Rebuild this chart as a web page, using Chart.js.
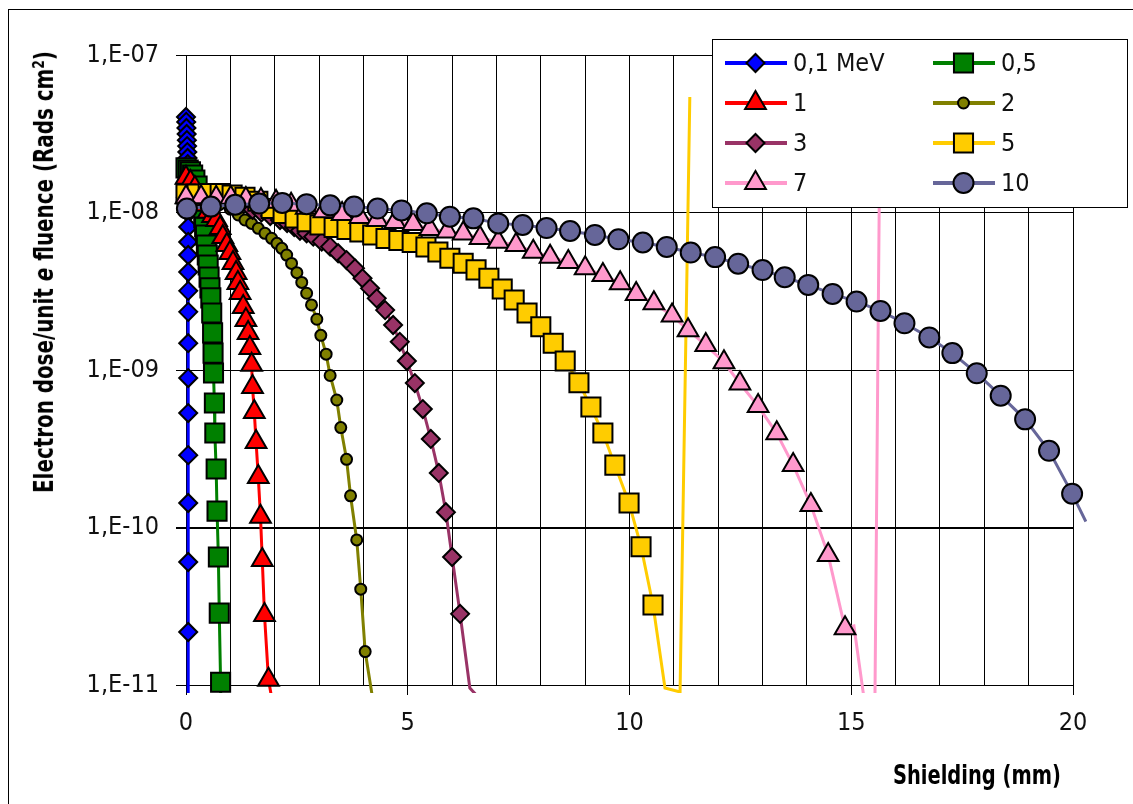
<!DOCTYPE html>
<html>
<head>
<meta charset="utf-8">
<script src="https://cdn.jsdelivr.net/npm/chart.js@4.4.1/dist/chart.umd.min.js"></script>
<style>
  body { margin: 0; background: #fff; overflow: hidden; }
  #wrap { position: relative; width: 1133px; height: 804px; overflow: hidden; }
  #frame { position: absolute; left: 8px; top: 9px; width: 1300px; height: 1000px; border-left: 1px solid #000; border-top: 1px solid #000; }
  canvas { position: absolute; left: 0; top: 0; }
  .title { position: absolute; font-family: 'DejaVu Sans Condensed', 'DejaVu Sans', sans-serif; font-weight: bold; font-size: 26px; line-height: 26px; white-space: nowrap; color: #000; }
  .title sup { font-size: 0.62em; vertical-align: 0.55em; line-height: 0; }
</style>
</head>
<body>
<div id="wrap">
  <div id="frame"></div>
  <canvas id="myChart" width="1133" height="804"></canvas>
  <div id="yTitle" class="title">Electron dose/unit <i>e</i> fluence (Rads cm<sup>2</sup>)</div>
  <div id="xTitle" class="title">Shielding (mm)</div>
</div>
<script>
// series labels (electron energy)
const seriesNames = ['0,1 MeV', '0,5', '1', '2', '3', '5', '7', '10'];

// y axis ticks
const yTickValues = [1e-11, 1e-10, 1e-9, 1e-8, 1e-7];
const yTickLabels = ['1,E-11', '1,E-10', '1,E-09', '1,E-08', '1,E-07'];
const xTickLabels = ['0', '5', '10', '15', '20'];

// shielding (mm) / dose per unit fluence, points with a marker
const dist01 = [0.00, 0.005, 0.01, 0.015, 0.02, 0.025, 0.03, 0.035, 0.04, 0.04, 0.045, 0.045, 0.05, 0.05, 0.05, 0.05, 0.05, 0.05, 0.05, 0.05, 0.05, 0.05, 0.05, 0.05, 0.05, 0.05];
const dose01 = [4.04e-8, 3.76e-8, 3.44e-8, 3.15e-8, 2.88e-8, 2.64e-8, 2.42e-8, 2.22e-8, 2.03e-8, 1.75e-8, 1.47e-8, 1.20e-8, 9.93e-9, 8.09e-9, 6.50e-9, 5.37e-9, 4.19e-9, 3.18e-9, 2.34e-9, 1.48e-9, 8.89e-10, 5.33e-10, 2.88e-10, 1.43e-10, 6.04e-11, 2.17e-11];

const dist05 = [0.00, 0.05, 0.10, 0.15, 0.20, 0.25, 0.30, 0.35, 0.40, 0.42, 0.44, 0.46, 0.48, 0.50, 0.52, 0.54, 0.56, 0.58, 0.60, 0.61, 0.62, 0.64, 0.65, 0.68, 0.70, 0.73, 0.75, 0.78];
const dose05 = [1.92e-8, 1.86e-8, 1.81e-8, 1.73e-8, 1.61e-8, 1.47e-8, 1.29e-8, 1.12e-8, 9.23e-9, 8.09e-9, 7.20e-9, 6.22e-9, 5.37e-9, 4.64e-9, 3.89e-9, 3.32e-9, 2.87e-9, 2.30e-9, 1.72e-9, 1.28e-9, 9.57e-10, 6.17e-10, 3.98e-10, 2.35e-10, 1.27e-10, 6.50e-11, 2.86e-11, 1.04e-11];

const dist1 = [0.0, 0.1, 0.2, 0.3, 0.4, 0.5, 0.6, 0.69, 0.77, 0.83, 0.92, 0.99, 1.06, 1.13, 1.17, 1.22, 1.29, 1.35, 1.40, 1.44, 1.48, 1.50, 1.54, 1.58, 1.63, 1.68, 1.72, 1.77, 1.86];
const dose1 = [1.66e-8, 1.56e-8, 1.43e-8, 1.27e-8, 1.12e-8, 1.01e-8, 9.5e-9, 8.96e-9, 7.97e-9, 6.99e-9, 6.22e-9, 5.54e-9, 4.78e-9, 4.13e-9, 3.57e-9, 3.08e-9, 2.51e-9, 2.08e-9, 1.72e-9, 1.38e-9, 1.08e-9, 7.80e-10, 5.41e-10, 3.49e-10, 2.09e-10, 1.17e-10, 6.22e-11, 2.78e-11, 1.08e-11];

const dist2 = [0.0, 0.25, 0.5, 0.75, 1.0, 1.18, 1.33, 1.48, 1.63, 1.78, 1.93, 2.05, 2.16, 2.27, 2.38, 2.50, 2.61, 2.72, 2.83, 2.95, 3.04, 3.16, 3.25, 3.40, 3.49, 3.62, 3.71, 3.85, 3.94, 4.04];
const dose2 = [1.20e-8, 1.20e-8, 1.17e-8, 1.12e-8, 1.05e-8, 9.64e-9, 8.96e-9, 8.53e-9, 7.93e-9, 7.38e-9, 6.86e-9, 6.37e-9, 5.92e-9, 5.37e-9, 4.75e-9, 4.15e-9, 3.60e-9, 3.07e-9, 2.59e-9, 2.10e-9, 1.66e-9, 1.26e-9, 9.23e-10, 6.45e-10, 4.31e-10, 2.71e-10, 1.59e-10, 8.34e-11, 4.06e-11, 1.63e-11];

const dist3 = [0.0, 0.5, 1.0, 1.5, 1.7, 1.9, 2.12, 2.28, 2.44, 2.57, 2.72, 2.87, 3.06, 3.25, 3.43, 3.62, 3.81, 3.98, 4.15, 4.30, 4.49, 4.67, 4.82, 4.98, 5.16, 5.34, 5.52, 5.70, 5.86, 6.00, 6.18];
const dose3 = [1.25e-8, 1.22e-8, 1.15e-8, 1.04e-8, 1.0e-8, 9.5e-9, 8.96e-9, 8.58e-9, 8.09e-9, 7.66e-9, 7.38e-9, 7.02e-9, 6.53e-9, 6.07e-9, 5.51e-9, 4.99e-9, 4.42e-9, 3.82e-9, 3.30e-9, 2.85e-9, 2.40e-9, 1.93e-9, 1.51e-9, 1.14e-9, 8.26e-10, 5.65e-10, 3.65e-10, 2.22e-10, 1.25e-10, 6.50e-11, 2.83e-11];

const dist5 = [0, 0.25, 0.50, 0.77, 1.04, 1.33, 1.62, 1.92, 2.19, 2.46, 2.73, 3.02, 3.34, 3.63, 3.92, 4.21, 4.51, 4.80, 5.10, 5.41, 5.68, 5.95, 6.25, 6.54, 6.83, 7.13, 7.40, 7.69, 8.00, 8.28, 8.55, 8.86, 9.13, 9.40, 9.67, 9.99, 10.26, 10.53];
const dose5 = [1.31e-8, 1.31e-8, 1.32e-8, 1.32e-8, 1.29e-8, 1.25e-8, 1.18e-8, 1.06e-8, 9.86e-9, 9.23e-9, 8.74e-9, 8.33e-9, 8.04e-9, 7.80e-9, 7.52e-9, 7.20e-9, 6.84e-9, 6.64e-9, 6.45e-9, 6.04e-9, 5.61e-9, 5.12e-9, 4.76e-9, 4.32e-9, 3.82e-9, 3.27e-9, 2.78e-9, 2.30e-9, 1.88e-9, 1.48e-9, 1.14e-9, 8.30e-10, 5.82e-10, 3.98e-10, 2.49e-10, 1.43e-10, 7.55e-11, 3.22e-11];

const dist7 = [0, 0.34, 0.68, 1.01, 1.35, 1.69, 2.03, 2.37, 2.71, 3.11, 3.52, 3.92, 4.31, 4.71, 5.12, 5.50, 5.89, 6.25, 6.63, 7.04, 7.44, 7.83, 8.21, 8.62, 9.00, 9.40, 9.79, 10.15, 10.55, 10.96, 11.32, 11.72, 12.13, 12.49, 12.90, 13.32, 13.69, 14.09, 14.48, 14.86];
const dose7 = [1.25e-8, 1.25e-8, 1.24e-8, 1.24e-8, 1.22e-8, 1.20e-8, 1.17e-8, 1.12e-8, 1.07e-8, 1.02e-8, 9.78e-9, 9.36e-9, 8.96e-9, 8.70e-9, 8.45e-9, 7.86e-9, 7.57e-9, 7.36e-9, 6.89e-9, 6.53e-9, 6.22e-9, 5.64e-9, 5.24e-9, 4.85e-9, 4.42e-9, 4.01e-9, 3.55e-9, 3.04e-9, 2.65e-9, 2.22e-9, 1.79e-9, 1.44e-9, 1.12e-9, 8.21e-10, 5.90e-10, 3.96e-10, 2.49e-10, 1.39e-10, 6.68e-11, 2.29e-11];

const dist10 = [0.02, 0.56, 1.11, 1.65, 2.17, 2.72, 3.25, 3.79, 4.32, 4.86, 5.43, 5.95, 6.48, 7.04, 7.59, 8.13, 8.66, 9.22, 9.75, 10.30, 10.84, 11.38, 11.93, 12.45, 13.00, 13.50, 14.03, 14.58, 15.12, 15.66, 16.20, 16.76, 17.28, 17.83, 18.37, 18.92, 19.46, 19.98];
const dose10 = [1.06e-8, 1.09e-8, 1.12e-8, 1.14e-8, 1.15e-8, 1.13e-8, 1.11e-8, 1.09e-8, 1.06e-8, 1.03e-8, 9.88e-9, 9.40e-9, 9.18e-9, 8.53e-9, 8.33e-9, 7.97e-9, 7.63e-9, 7.20e-9, 6.76e-9, 6.45e-9, 6.04e-9, 5.57e-9, 5.21e-9, 4.73e-9, 4.31e-9, 3.88e-9, 3.47e-9, 3.04e-9, 2.72e-9, 2.37e-9, 1.98e-9, 1.61e-9, 1.28e-9, 9.53e-10, 6.87e-10, 4.86e-10, 3.07e-10, 1.64e-10];

// end of each curve, drawn as line only (no markers in the original)
const tailDist01 = [0.05];           const tailDose01 = [5e-12];
const tailDist05 = [0.79];           const tailDose05 = [5e-12];
const tailDist1 = [2.07];            const tailDose1 = [5e-12];
const tailDist2 = [4.33];            const tailDose2 = [5e-12];
const tailDist3 = [6.40, 6.62];      const tailDose3 = [9.57e-12, 8.2e-12];
const tailDist5 = [10.80, 11.14, 11.36]; const tailDose5 = [9.57e-12, 9.03e-12, 5.41e-8];
const tailDist7 = [15.06, 15.52, 15.66]; const tailDose7 = [2.37e-11, 2.8e-12, 1.0e-7];
const tailDist10 = [20.29];          const tailDose10 = [1.09e-10];

const allDist = [dist01, dist05, dist1, dist2, dist3, dist5, dist7, dist10];
const allDose = [dose01, dose05, dose1, dose2, dose3, dose5, dose7, dose10];
const allTailDist = [tailDist01, tailDist05, tailDist1, tailDist2, tailDist3, tailDist5, tailDist7, tailDist10];
const allTailDose = [tailDose01, tailDose05, tailDose1, tailDose2, tailDose3, tailDose5, tailDose7, tailDose10];

const seriesColors = ['#0000FF', '#008000', '#FF0000', '#808000', '#993366', '#FFCC00', '#FF99CC', '#666699'];
const markerStyles = ['rectRot', 'rect', 'triangle', 'circle', 'rectRot', 'rect', 'triangle', 'circle'];
const markerSizes = [9, 13.5, 12, 5.5, 9, 13.5, 12, 10];

const FONT = "'DejaVu Sans Condensed', 'DejaVu Sans', sans-serif";

function makePoints(xs, ys) {
    return xs.map(function (x, i) { return { x: x, y: ys[i] }; });
}

var datasets = seriesNames.map(function (name, i) {
    var marked = makePoints(allDist[i], allDose[i]);
    var tail = makePoints(allTailDist[i], allTailDose[i]);
    var nMarked = marked.length;
    return {
        label: name,
        data: marked.concat(tail),
        showLine: true,
        borderColor: seriesColors[i],
        backgroundColor: seriesColors[i],
        borderWidth: 3,
        tension: 0,
        pointStyle: markerStyles[i],
        pointRadius: function (ctx) { return ctx.dataIndex < nMarked ? markerSizes[i] : 0; },
        pointHoverRadius: function (ctx) { return ctx.dataIndex < nMarked ? markerSizes[i] : 0; },
        pointBackgroundColor: seriesColors[i],
        pointBorderColor: '#000',
        pointBorderWidth: 2,
        clip: { left: 14, top: 14, right: 14, bottom: 8 },
        order: -i
    };
});

// legend drawn over the data, like the boxed legend of the original
var legendBox = {
    id: 'legendBox',
    afterDraw: function (chart) {
        var ctx = chart.ctx;
        ctx.save();
        ctx.fillStyle = '#fff';
        ctx.fillRect(712, 39, 416, 169);
        ctx.strokeStyle = '#000';
        ctx.lineWidth = 1;
        ctx.strokeRect(712.5, 39.5, 415, 168);
        seriesNames.forEach(function (name, i) {
            var col = i % 2;
            var row = Math.floor(i / 2);
            var x0 = col ? 933 : 725;
            var y = 63 + row * 40;
            ctx.strokeStyle = seriesColors[i];
            ctx.lineWidth = 4;
            ctx.beginPath();
            ctx.moveTo(x0, y);
            ctx.lineTo(x0 + 62, y);
            ctx.stroke();
            ctx.fillStyle = seriesColors[i];
            ctx.strokeStyle = '#000';
            ctx.lineWidth = 2;
            Chart.helpers.drawPoint(ctx, {
                pointStyle: markerStyles[i],
                radius: markerSizes[i],
                rotation: 0,
                borderWidth: 2
            }, x0 + 30.5, y);
            ctx.fillStyle = '#111';
            ctx.font = '25px ' + FONT;
            ctx.textBaseline = 'middle';
            ctx.textAlign = 'left';
            ctx.fillText(name, col ? 1001 : 793, y + 1);
        });
        ctx.restore();
    }
};

var ctx = document.getElementById('myChart').getContext('2d');
var myChart = new Chart(ctx, {
    type: 'scatter',
    data: { datasets: datasets },
    options: {
        responsive: false,
        animation: false,
        events: [],
        layout: { padding: { left: 0, top: 55, right: 60, bottom: 0 } },
        plugins: {
            legend: { display: false },
            tooltip: { enabled: false }
        },
        scales: {
            x: {
                type: 'linear',
                min: 0,
                max: 20,
                afterFit: function (scale) { scale.height = 119; },
                ticks: {
                    stepSize: 1,
                    autoSkip: false,
                    maxRotation: 0,
                    padding: 13,
                    color: '#111',
                    font: { family: FONT, size: 25 },
                    callback: function (v) {
                        return v % 5 === 0 ? xTickLabels[v / 5] : '';
                    }
                },
                grid: {
                    color: '#000',
                    lineWidth: 1,
                    tickLength: 10,
                    tickColor: function (c) {
                        return c.tick && c.tick.value % 5 === 0 ? '#000' : 'rgba(0,0,0,0)';
                    }
                },
                border: { display: true, color: '#000', width: 1 }
            },
            y: {
                type: 'logarithmic',
                min: 1e-11,
                max: 1e-7,
                afterFit: function (scale) { scale.width = 186; },
                afterBuildTicks: function (scale) {
                    scale.ticks = yTickValues.map(function (v) { return { value: v }; });
                },
                ticks: {
                    autoSkip: false,
                    padding: 17,
                    color: '#111',
                    font: { family: FONT, size: 25 },
                    callback: function (v) {
                        var k = yTickValues.indexOf(v);
                        return k >= 0 ? yTickLabels[k] : '';
                    }
                },
                grid: {
                    color: '#000',
                    tickLength: 10,
                    lineWidth: function (c) {
                        return c.tick && c.tick.value === 1e-10 ? 2 : 1;
                    }
                },
                border: { display: true, color: '#000', width: 1 }
            }
        }
    },
    plugins: [legendBox]
});

// axis titles as html text, squeezed to the width they take in the original
function placeTitle(id, length, cx, cy, rotate) {
    var el = document.getElementById(id);
    var w = el.offsetWidth;
    var h = el.offsetHeight;
    var k = length / w;
    el.style.left = (cx - w / 2) + 'px';
    el.style.top = (cy - h / 2) + 'px';
    el.style.transform = (rotate ? 'rotate(-90deg) ' : '') + 'scaleX(' + k + ')';
}
placeTitle('yTitle', 442, 44, 272, true);
placeTitle('xTitle', 168, 977, 775, false);
</script>
</body>
</html>
